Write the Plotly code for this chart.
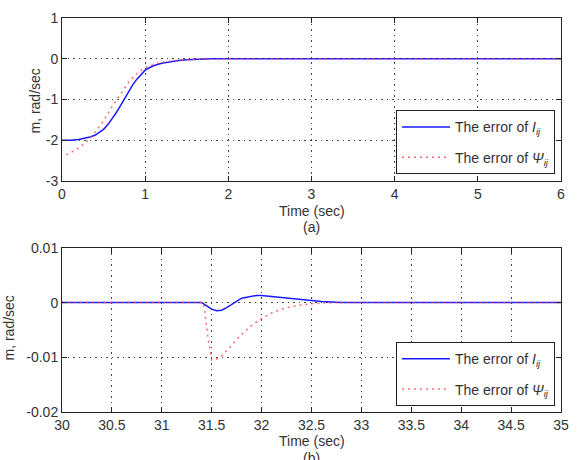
import plotly.graph_objects as go

# ---- Data ----
# (a) top panel
t_I_a = [0, 0.1, 0.2, 0.25, 0.3, 0.35, 0.4, 0.45, 0.5, 0.55, 0.6, 0.65, 0.7, 0.75, 0.8, 0.85, 0.9, 0.95, 1.0, 1.05, 1.1, 1.2, 1.3, 1.4, 1.5, 1.6, 1.7, 1.8, 2.0, 6.0]
err_I_a = [-2.0, -2.0, -1.98, -1.96, -1.94, -1.91, -1.87, -1.81, -1.73, -1.62, -1.48, -1.33, -1.16, -0.98, -0.80, -0.64, -0.50, -0.38, -0.28, -0.22, -0.17, -0.11, -0.07, -0.04, -0.025, -0.015, -0.007, 0, 0, 0]
t_P_a = [0.05, 0.1, 0.2, 0.3, 0.4, 0.5, 0.6, 0.7, 0.8, 0.9, 1.0, 1.1, 1.2, 1.3, 1.4, 1.5, 1.6, 1.8, 2.0, 6.0]
err_P_a = [-2.35, -2.31, -2.19, -2.02, -1.80, -1.52, -1.18, -0.88, -0.58, -0.36, -0.22, -0.14, -0.09, -0.06, -0.035, -0.02, -0.01, 0, 0, 0]

# (b) bottom panel
t_I_b = [30, 31.40, 31.45, 31.50, 31.55, 31.60, 31.65, 31.70, 31.75, 31.80, 31.85, 31.90, 31.95, 32.00, 32.10, 32.20, 32.30, 32.40, 32.50, 32.60, 32.70, 32.80, 35]
err_I_b = [0, 0, -0.0006, -0.0012, -0.0015, -0.0014, -0.0009, -0.0003, 0.0003, 0.0008, 0.0010, 0.0012, 0.0013, 0.0013, 0.0011, 0.0009, 0.0007, 0.0005, 0.0003, 0.0002, 0.0001, 0, 0]
t_P_b = [30, 31.42, 31.46, 31.50, 31.55, 31.60, 31.65, 31.70, 31.80, 31.90, 32.00, 32.10, 32.20, 32.30, 32.40, 32.50, 32.60, 32.70, 32.80, 35]
err_P_b = [0, 0, -0.006, -0.0105, -0.0103, -0.0097, -0.0088, -0.0078, -0.0058, -0.0042, -0.0029, -0.0019, -0.0012, -0.0007, -0.0004, -0.0002, -0.0001, 0, 0, 0]

# tick labels
xticks_a = [0, 1, 2, 3, 4, 5, 6]
yticks_a = [1, 0, -1, -2, -3]
yticklabels_a = ["1", "0", "-1", "-2", "-3"]
xticks_b = [30, 30.5, 31, 31.5, 32, 32.5, 33, 33.5, 34, 34.5, 35]
yticks_b = [0.01, 0, -0.01, -0.02]
yticklabels_b = ["0.01", "0", "-0.01", "-0.02"]

name_I = "The error of <i>I</i><sub><i>ij</i></sub>"
name_P = "The error of <i>Ψ</i><sub><i>ij</i></sub>"
y_title = "m, rad/sec"

FONT = "Liberation Sans, Arial, sans-serif"
FS = 14
TXT = "#333"
BLUE = "#1a1aff"
RED = "rgba(255,70,70,0.8)"

fig = go.Figure()

fig.add_trace(go.Scatter(x=t_I_a, y=err_I_a, mode="lines", name=name_I,
                         line=dict(color=BLUE, width=1.5), legendgroup="a1",
                         xaxis="x", yaxis="y", legend="legend"))
fig.add_trace(go.Scatter(x=t_P_a, y=err_P_a, mode="lines", name=name_P,
                         line=dict(color=RED, width=1.5, dash="2px,4px"), legendgroup="a2",
                         xaxis="x", yaxis="y", legend="legend"))
fig.add_trace(go.Scatter(x=t_I_b, y=err_I_b, mode="lines", name=name_I,
                         line=dict(color=BLUE, width=1.5), legendgroup="b1",
                         xaxis="x2", yaxis="y2", legend="legend2"))
fig.add_trace(go.Scatter(x=t_P_b, y=err_P_b, mode="lines", name=name_P,
                         line=dict(color=RED, width=1.5, dash="2px,4px"), legendgroup="b2",
                         xaxis="x2", yaxis="y2", legend="legend2"))

axis_common = dict(showline=True, linecolor="#222", linewidth=1, mirror="allticks",
                   ticks="inside", ticklen=5, tickcolor="#222",
                   showgrid=True, gridcolor="#444", griddash="1.5px,4px", gridwidth=1,
                   zeroline=False, tickfont=dict(family=FONT, size=FS, color=TXT))

M_T, M_B, M_L, M_R = 11, 48, 62, 10
H, W = 460, 579
plot_h = H - M_T - M_B
plot_w = W - M_L - M_R


def py(p):
    return (H - M_B - p) / plot_h


legend_common = dict(x=0.988, xanchor="right", yanchor="top",
                     bgcolor="white", bordercolor="#222", borderwidth=1,
                     font=dict(family=FONT, size=FS, color=TXT),
                     tracegroupgap=9, itemwidth=48)

fig.update_layout(
    width=W, height=H,
    margin=dict(l=M_L, r=M_R, t=M_T, b=M_B),
    paper_bgcolor="white", plot_bgcolor="white",
    font=dict(family=FONT, size=FS, color=TXT),
    xaxis=dict(domain=[0, 1], anchor="y", range=[0, 6], tickvals=xticks_a, **axis_common),
    yaxis=dict(domain=[py(177), 1], anchor="x", range=[-3, 1], tickvals=yticks_a,
               ticktext=yticklabels_a, **axis_common),
    xaxis2=dict(domain=[0, 1], anchor="y2", range=[30, 35], tickvals=xticks_b, **axis_common),
    yaxis2=dict(domain=[0, py(245)], anchor="x2", range=[-0.02, 0.01], tickvals=yticks_b,
                ticktext=yticklabels_b, **axis_common),
    legend=dict(y=py(105), **legend_common),
    legend2=dict(y=py(341), **legend_common),
    showlegend=True,
)

annots = [("Time (sec)", 207), ("(a)", 224), ("Time (sec)", 442), ("(b)", 459)]
for txt, p in annots:
    fig.add_annotation(text=txt, xref="paper", yref="paper", x=0.5, y=py(p),
                       showarrow=False, xanchor="center", yanchor="middle",
                       font=dict(family=FONT, size=FS, color=TXT))

# y-axis titles: placed with pixel shifts from the plot's left edge
for shift, yp in [(-27, 96), (-53, 327)]:
    fig.add_annotation(text=y_title, xref="paper", yref="paper", x=0, y=py(yp),
                       xshift=shift, showarrow=False, xanchor="center", yanchor="middle",
                       textangle=-90, font=dict(family=FONT, size=FS, color=TXT))

fig.write_html("out.html")
